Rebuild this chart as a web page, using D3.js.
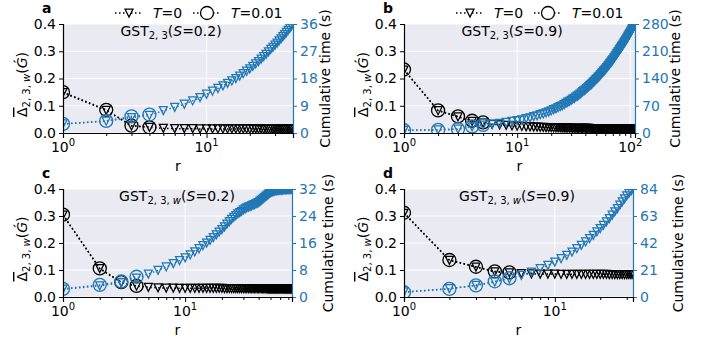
<!DOCTYPE html>
<html>
<head>
<meta charset="utf-8">
<script src="https://cdn.jsdelivr.net/npm/d3@7"></script>
<style>
  body { margin: 0; background: #fff; }
  text { font-family: "DejaVu Sans", sans-serif; }
</style>
</head>
<body>
<svg id="fig" width="710" height="343"></svg>
<script>
// ---- data ----
const deltaTicks = [0, 0.1, 0.2, 0.3, 0.4];

// panel a : GST_{2,3}(S=0.2)
const deltaA_T0 = [0.148,0.083,0.026,0.021,0.017,0.016,0.016,0.016,0.015,0.015,
  0.015,0.015,0.015,0.015,0.015,0.015,0.015,0.015,0.015,0.015,
  0.015,0.015,0.015,0.015,0.014,0.014,0.014,0.014,0.014,0.014,
  0.014,0.014,0.014,0.014,0.014,0.014,0.014,0.014,0.014,0.014];
const timeA_T0 = [3.0,3.9,5.1,5.8,7.4,8.5,9.5,10.6,11.7,12.8,
  13.8,14.7,15.6,16.4,17.2,18.0,18.8,19.6,20.4,21.2,
  22.0,22.8,23.6,24.4,25.2,26.0,26.8,27.6,28.3,29.0,
  29.7,30.4,31.1,31.8,32.5,33.2,33.9,34.6,35.3,36.0];
const deltaA_T01 = [0.150,0.085,0.027,0.021];
const timeA_T01 = [3.0,4.0,5.5,6.1];
const timeTicksA = [0, 9, 18, 27, 36];

// panel b : GST_{2,3}(S=0.9)
const deltaB_T0 = [0.231,0.082,0.059,0.043,0.037,0.032,0.030,0.028,0.026,0.025,
  0.024,0.023,0.023,0.022,0.022,0.021,0.021,0.020,0.020,0.020,
  0.019,0.019,0.019,0.019,0.018,0.018,0.018,0.018,0.018,0.018,
  0.017,0.017,0.017,0.017,0.017,0.017,0.017,0.017,0.017,0.017,
  0.017,0.017,0.017,0.016,0.016,0.016,0.016,0.016,0.016,0.016,
  0.016,0.016,0.016,0.016,0.016,0.016,0.016,0.016,0.016,0.016,
  0.016,0.016,0.016,0.016,0.015,0.015,0.015,0.015,0.015,0.015,
  0.015,0.015,0.015,0.015,0.015,0.015,0.015,0.015,0.015,0.015,
  0.015,0.015,0.015,0.015,0.015,0.014,0.014,0.014,0.014,0.014,
  0.014,0.014,0.014,0.014,0.014,0.014,0.014,0.014,0.014,0.014,
  0.014,0.014,0.014,0.014,0.014,0.013,0.013,0.013,0.013,0.013];
const timeB_T0 = [7,8,10,16,20,23,25,27,30,32,
  34,37,39,42,44,47,49,52,54,57,
  60,62,65,68,70,73,76,79,81,84,
  87,89,92,95,97,100,103,106,108,111,
  114,116,119,122,124,127,130,132,135,138,
  140,143,145,148,150,153,155,158,160,163,
  165,168,170,173,175,178,180,183,185,188,
  190,193,195,198,200,203,205,208,210,213,
  215,217,219,222,224,226,228,231,233,235,
  237,239,242,244,246,248,251,253,255,257,
  260,262,264,266,268,271,273,275,277,280];
const deltaB_T01 = [0.233,0.083,0.061,0.045,0.039];
const timeB_T01 = [7,8,10,17,21];
const timeTicksB = [0, 70, 140, 210, 280];

// panel c : GST_{2,3,w}(S=0.2)
const deltaC_T0 = [0.303,0.105,0.053,0.040,0.036,0.034,0.033,0.033,0.032,0.032,
  0.032,0.032,0.032,0.032,0.032,0.032,0.032,0.032,0.032,0.032,
  0.031,0.031,0.031,0.031,0.031,0.031,0.031,0.031,0.031,0.031,
  0.031,0.031,0.031,0.031,0.031,0.031,0.031,0.031,0.031,0.031,
  0.031,0.031,0.031,0.031,0.031,0.030,0.030,0.030,0.030,0.030,
  0.030,0.030,0.030,0.030,0.030,0.030,0.030,0.030,0.030,0.030,
  0.030,0.030,0.030,0.030,0.030,0.030,0.030,0.030,0.030,0.030,
  0.030,0.030,0.030,0.030,0.030];
const timeC_T0 = [2.3,3.3,4.3,5.6,6.8,7.9,8.9,9.9,10.8,11.6,
  12.5,13.4,14.3,15.2,16.0,16.8,17.6,18.4,19.2,20.0,
  20.8,21.6,22.3,23.0,23.6,24.1,24.6,25.0,25.4,25.8,
  26.1,26.4,26.6,26.8,27.0,27.2,27.4,27.6,27.8,28.0,
  28.3,28.6,28.9,29.2,29.5,29.8,30.1,30.4,30.7,30.9,
  31.1,31.2,31.3,31.4,31.5,31.5,31.6,31.6,31.7,31.7,
  31.7,31.7,31.7,31.8,31.8,31.8,31.8,31.8,31.9,31.9,
  31.9,31.9,31.9,32.0,32.0];
const deltaC_T01 = [0.305,0.106,0.055,0.041];
const timeC_T01 = [2.4,3.6,4.6,6.0];
const timeTicksC = [0, 8, 16, 24, 32];

// panel d : GST_{2,3,w}(S=0.9)
const deltaD_T0 = [0.310,0.136,0.111,0.093,0.089,0.087,0.086,0.085,0.085,0.085,
  0.084,0.084,0.084,0.084,0.084,0.084,0.084,0.084,0.084,0.084,
  0.084,0.084,0.083,0.083,0.083,0.083,0.083,0.083,0.083,0.083,
  0.083,0.083,0.083];
const timeD_T0 = [3.9,6.5,9.1,11.7,14.2,16.8,19.4,22.0,24.6,27.2,
  29.8,32.4,35.0,37.6,40.2,42.8,45.4,48.0,50.6,53.2,
  55.8,58.4,61.0,63.6,66.2,68.8,71.4,74.0,76.3,78.6,
  80.6,82.4,84.0];
const deltaD_T01 = [0.312,0.137,0.112,0.095,0.091];
const timeD_T01 = [3.7,6.3,9.0,12.2,14.6];
const timeTicksD = [0, 21, 42, 63, 84];

const blue = '#1f77b4';
const svg = d3.select('#fig');

// rightLabel: x of the rotated "Cumulative time (s)" baseline
const panels = [
  { id: 'a', left: 63, right: 293, top: 24, bottom: 133, titleX: 171, sub: '2, 3', w: false, S: '0.2', rightLabel: 330,
    d0: deltaA_T0, t0: timeA_T0, d1: deltaA_T01, t1: timeA_T01, tTicks: timeTicksA, legend: true },
  { id: 'b', left: 404, right: 635, top: 24, bottom: 133, titleX: 512, sub: '2, 3', w: false, S: '0.9', rightLabel: 680,
    d0: deltaB_T0, t0: timeB_T0, d1: deltaB_T01, t1: timeB_T01, tTicks: timeTicksB, legend: true },
  { id: 'c', left: 63, right: 292, top: 189, bottom: 297, titleX: 177, sub: '2, 3, ', w: true, S: '0.2', rightLabel: 333,
    d0: deltaC_T0, t0: timeC_T0, d1: deltaC_T01, t1: timeC_T01, tTicks: timeTicksC, legend: false },
  { id: 'd', left: 404, right: 633, top: 189, bottom: 297, titleX: 517, sub: '2, 3, ', w: true, S: '0.9', rightLabel: 683,
    d0: deltaD_T0, t0: timeD_T0, d1: deltaD_T01, t1: timeD_T01, tTicks: timeTicksD, legend: false }
];

function triPath(cx, cy) {
  return `M${cx - 4},${cy - 4}L${cx + 4},${cy - 4}L${cx},${cy + 4}Z`;
}

function drawSeries(g, x, yScale, values, color, shape) {
  const line = d3.line().x((d, i) => x(i + 1)).y(d => yScale(d));
  g.append('path')
    .attr('d', line(values))
    .attr('fill', 'none')
    .attr('stroke', color)
    .attr('stroke-width', 1.5)
    .attr('stroke-dasharray', '1.5,2.5');
  if (shape === 'tri') {
    g.selectAll(null).data(values).enter().append('path')
      .attr('d', (d, i) => triPath(x(i + 1), yScale(d)))
      .attr('fill', 'none')
      .attr('stroke', color)
      .attr('stroke-width', 1.25);
  } else {
    g.selectAll(null).data(values).enter().append('circle')
      .attr('cx', (d, i) => x(i + 1))
      .attr('cy', d => yScale(d))
      .attr('r', 6.5)
      .attr('fill', 'none')
      .attr('stroke', color)
      .attr('stroke-width', 1.3);
  }
}

function drawPanel(p) {
  const rMax = p.d0.length;
  const tMax = p.tTicks[p.tTicks.length - 1];
  const x = d3.scaleLog().domain([1, rMax]).range([p.left, p.right]);
  const y = d3.scaleLinear().domain([0, 0.4]).range([p.bottom, p.top]);
  const y2 = d3.scaleLinear().domain([0, tMax]).range([p.bottom, p.top]);
  const g = svg.append('g');

  g.append('clipPath').attr('id', 'clip-' + p.id)
    .append('rect')
    .attr('x', p.left).attr('y', p.top)
    .attr('width', p.right - p.left).attr('height', p.bottom - p.top);

  g.append('rect')
    .attr('x', p.left).attr('y', p.top)
    .attr('width', p.right - p.left).attr('height', p.bottom - p.top)
    .attr('fill', '#eaeaf2');

  // grid
  g.selectAll(null).data(deltaTicks).enter().append('line')
    .attr('x1', p.left).attr('x2', p.right)
    .attr('y1', d => y(d)).attr('y2', d => y(d))
    .attr('stroke', '#fff').attr('stroke-width', 1);
  const decades = [1, 10, 100].filter(v => v <= rMax);
  g.selectAll(null).data(decades).enter().append('line')
    .attr('x1', d => x(d)).attr('x2', d => x(d))
    .attr('y1', p.top).attr('y2', p.bottom)
    .attr('stroke', '#fff').attr('stroke-width', 1);

  // title inside plot
  const title = g.append('text')
    .attr('x', p.titleX).attr('y', p.top + 12)
    .attr('text-anchor', 'middle')
    .attr('font-size', 14).attr('fill', '#000');
  title.append('tspan').text('GST');
  title.append('tspan').attr('font-size', 10).attr('dy', 3).text(p.sub);
  if (p.w) title.append('tspan').attr('font-size', 10).attr('font-style', 'italic').text('w');
  title.append('tspan').attr('dy', -3).text('(');
  title.append('tspan').attr('font-style', 'italic').text('S');
  title.append('tspan').text('=' + p.S + ')');

  // data
  const data = g.append('g').attr('clip-path', `url(#clip-${p.id})`);
  drawSeries(data, x, y, p.d0, '#000', 'tri');
  drawSeries(data, x, y, p.d1, '#000', 'circle');
  drawSeries(data, x, y2, p.t0, blue, 'tri');
  drawSeries(data, x, y2, p.t1, blue, 'circle');

  // left axis
  const ax = g.append('g').attr('transform', `translate(${p.left},0)`)
    .call(d3.axisLeft(y).tickValues(deltaTicks).tickFormat(d3.format('.1f')).tickSize(4).tickPadding(3));
  ax.select('.domain').attr('stroke', '#000').attr('stroke-width', 1.2);
  ax.selectAll('text').attr('font-size', 14).attr('fill', '#000').attr('font-family', 'DejaVu Sans');

  // right axis (blue)
  const ar = g.append('g').attr('transform', `translate(${p.right},0)`)
    .call(d3.axisRight(y2).tickValues(p.tTicks).tickFormat(d3.format('d')).tickSize(4).tickPadding(3));
  ar.select('.domain').attr('stroke', blue).attr('stroke-width', 1.2);
  ar.selectAll('line').attr('stroke', blue);
  ar.selectAll('text').attr('font-size', 14).attr('fill', blue).attr('font-family', 'DejaVu Sans');

  // bottom axis: log with minor ticks
  const minor = [];
  [1, 10, 100].forEach(k => { for (let m = 2; m <= 9; m++) if (m * k <= rMax) minor.push(m * k); });
  const ab = g.append('g').attr('transform', `translate(0,${p.bottom})`)
    .call(d3.axisBottom(x).tickValues(decades).tickFormat('').tickSize(5));
  ab.select('.domain').attr('stroke', '#000').attr('stroke-width', 1.2);
  g.append('g').attr('transform', `translate(0,${p.bottom})`)
    .call(d3.axisBottom(x).tickValues(minor).tickFormat('').tickSize(3))
    .select('.domain').remove();
  decades.forEach(v => {
    const t = g.append('text')
      .attr('x', x(v)).attr('y', p.bottom + 19)
      .attr('text-anchor', 'middle').attr('font-size', 14);
    t.append('tspan').text('10');
    t.append('tspan').attr('font-size', 10).attr('dy', -6).text(String(Math.round(Math.log10(v))));
  });
  g.append('text')
    .attr('x', (p.left + p.right) / 2).attr('y', p.bottom + 38)
    .attr('text-anchor', 'middle').attr('font-size', 14).text('r');

  // left label
  const lx = p.left - 36;
  const cy = (p.top + p.bottom) / 2 + 6;
  const yl = g.append('text')
    .attr('transform', `translate(${lx},${cy}) rotate(-90)`)
    .attr('text-anchor', 'middle').attr('font-size', 14);
  yl.append('tspan').style('text-decoration', 'overline').text('\u0394');
  yl.append('tspan').attr('font-size', 10).attr('dy', 3).text('2, 3, ');
  yl.append('tspan').attr('font-size', 10).attr('font-style', 'italic').text('w');
  yl.append('tspan').attr('dy', -3).text('(');
  yl.append('tspan').attr('font-style', 'italic').text('\u01F4');
  yl.append('tspan').text(')');

  // right label
  g.append('text')
    .attr('transform', `translate(${p.rightLabel},${(p.top + p.bottom) / 2}) rotate(-90)`)
    .attr('text-anchor', 'middle').attr('font-size', 14).text('Cumulative time (s)');

  // panel letter
  g.append('text')
    .attr('x', p.left - 21).attr('y', p.top - 11)
    .attr('font-size', 14).attr('font-weight', 'bold').text(p.id);

  // legend
  if (p.legend) {
    const lg = g.append('g').attr('transform', `translate(${p.left + 52},13)`);
    const items = [
      { shape: 'tri', label: '0', x0: 0 },
      { shape: 'circle', label: '0.01', x0: 78 }
    ];
    items.forEach(it => {
      lg.append('line')
        .attr('x1', it.x0).attr('x2', it.x0 + 28)
        .attr('y1', 0).attr('y2', 0)
        .attr('stroke', '#000').attr('stroke-width', 1.5)
        .attr('stroke-dasharray', '1.5,2.5');
      if (it.shape === 'tri') {
        lg.append('path').attr('d', triPath(it.x0 + 14, 0))
          .attr('fill', '#fff').attr('stroke', '#000').attr('stroke-width', 1.25);
      } else {
        lg.append('circle').attr('cx', it.x0 + 14).attr('cy', 0).attr('r', 6.5)
          .attr('fill', '#fff').attr('stroke', '#000').attr('stroke-width', 1.3);
      }
      const t = lg.append('text').attr('x', it.x0 + 38).attr('y', 5).attr('font-size', 14);
      t.append('tspan').attr('font-style', 'italic').text('T');
      t.append('tspan').text('=' + it.label);
    });
  }
}

panels.forEach(drawPanel);
</script>
</body>
</html>
